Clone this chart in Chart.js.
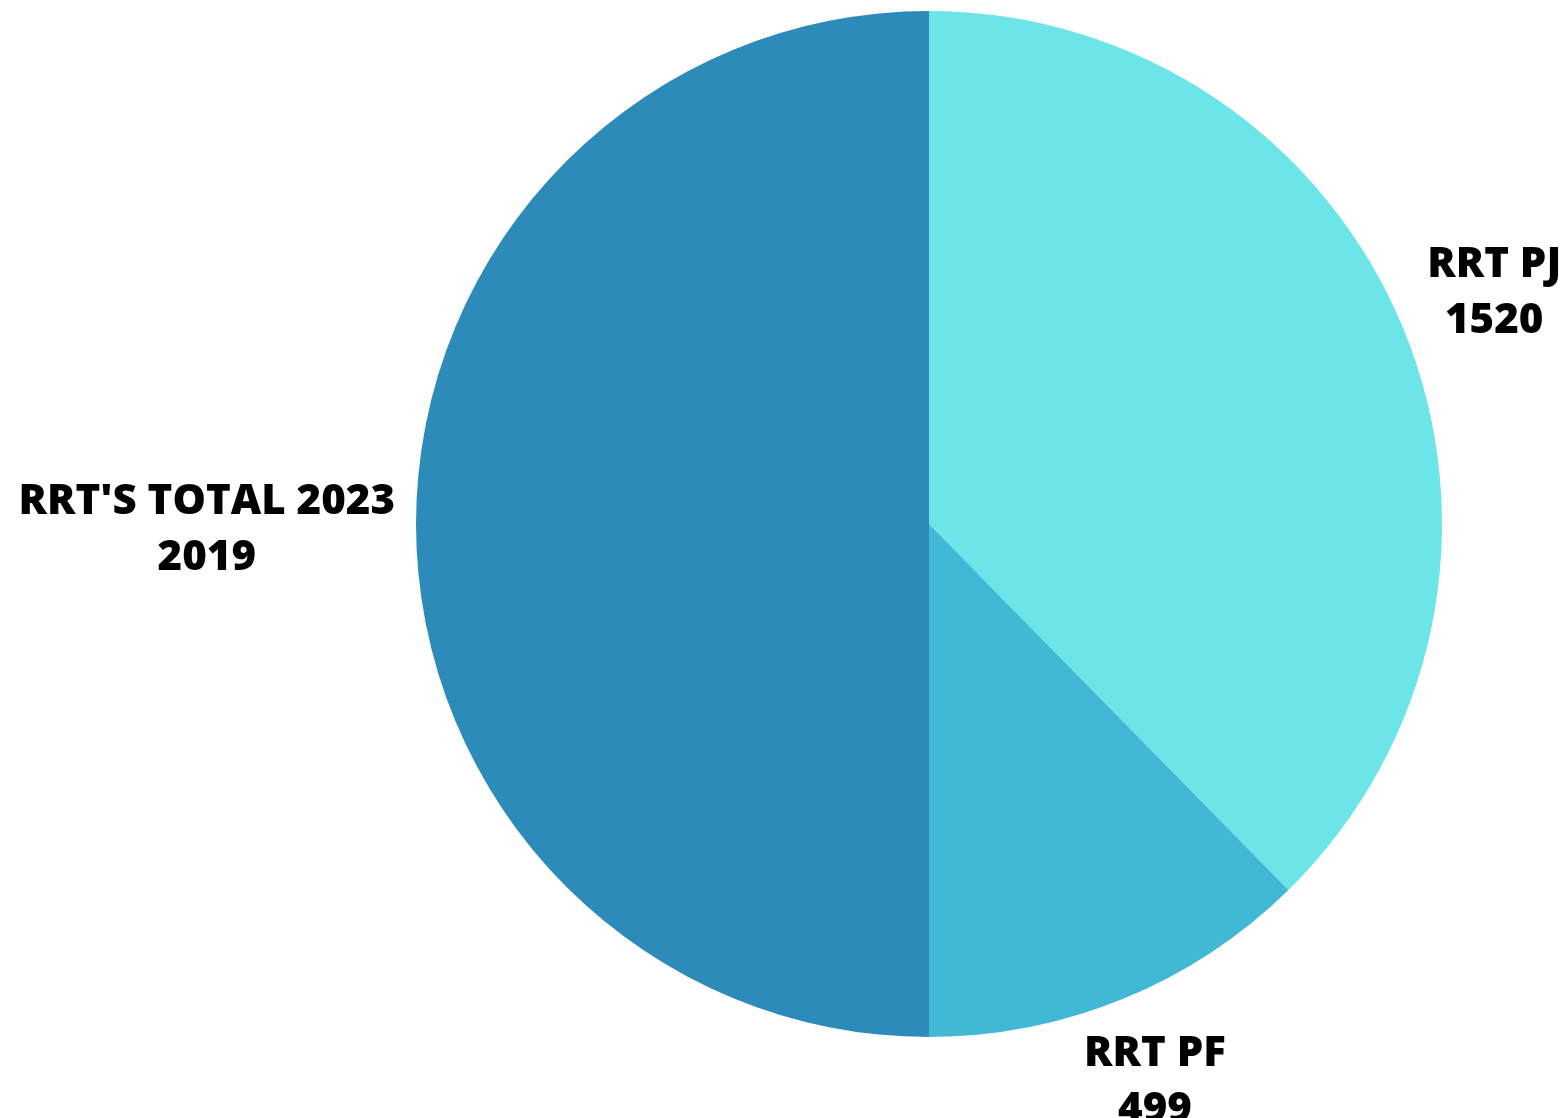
<!DOCTYPE html>
<html>
<head>
<meta charset="utf-8">
<script src="https://cdn.jsdelivr.net/npm/chart.js@4/dist/chart.umd.min.js"></script>
<style>
  html, body { margin: 0; padding: 0; background: #ffffff; }
  #wrap { width: 1568px; height: 1118px; }
</style>
</head>
<body>
<div id="wrap"><canvas id="c" width="1568" height="1118"></canvas></div>
<script>
const categories = ["RRT PJ", "RRT PF", "RRT'S TOTAL 2023"];
const values = [1520, 499, 2019];
const colors = ["#6CE5E8", "#41B8D5", "#2D8BBA"];

const FONT = "800 42px 'Open Sans'";
const LINE_H = 56;
const PAD = 21;
// small per-label nudges (style only)
const labelNudge = [{ dx: 9, dy: -8 }, { dx: -3, dy: 12 }, { dx: 0, dy: 6 }];

const outLabels = {
  id: 'outLabels',
  afterDatasetsDraw(chart) {
    const ctx = chart.ctx;
    const meta = chart.getDatasetMeta(0);
    ctx.save();
    ctx.font = FONT;
    ctx.fillStyle = '#000000';
    ctx.textAlign = 'center';
    ctx.textBaseline = 'middle';
    meta.data.forEach((arc, i) => {
      const p = arc.getProps(['x', 'y', 'startAngle', 'endAngle', 'outerRadius'], true);
      const mid = (p.startAngle + p.endAngle) / 2;
      const ux = Math.cos(mid), uy = Math.sin(mid);
      const lines = [categories[i], String(values[i])];
      const w = Math.max(...lines.map(l => ctx.measureText(l).width));
      const h = lines.length * LINE_H;
      const n = labelNudge[i];
      const cx = p.x + ux * (p.outerRadius + PAD) + ux * w / 2 + n.dx;
      const cy = p.y + uy * (p.outerRadius + PAD) + uy * h / 2 + n.dy;
      lines.forEach((l, k) => {
        ctx.fillText(l, cx, cy + (k - (lines.length - 1) / 2) * LINE_H);
      });
    });
    ctx.restore();
  }
};

function draw() {
  new Chart(document.getElementById('c'), {
    type: 'pie',
    data: {
      labels: categories,
      datasets: [{
        data: values,
        backgroundColor: colors,
        borderWidth: 0
      }]
    },
    options: {
      responsive: false,
      animation: false,
      layout: { padding: { left: 416, right: 126, top: 11, bottom: 81 } },
      plugins: {
        legend: { display: false },
        tooltip: { enabled: false }
      }
    },
    plugins: [outLabels]
  });
}

if (document.fonts && document.fonts.load) {
  document.fonts.load(FONT).then(draw, draw);
} else {
  draw();
}
</script>
</body>
</html>
